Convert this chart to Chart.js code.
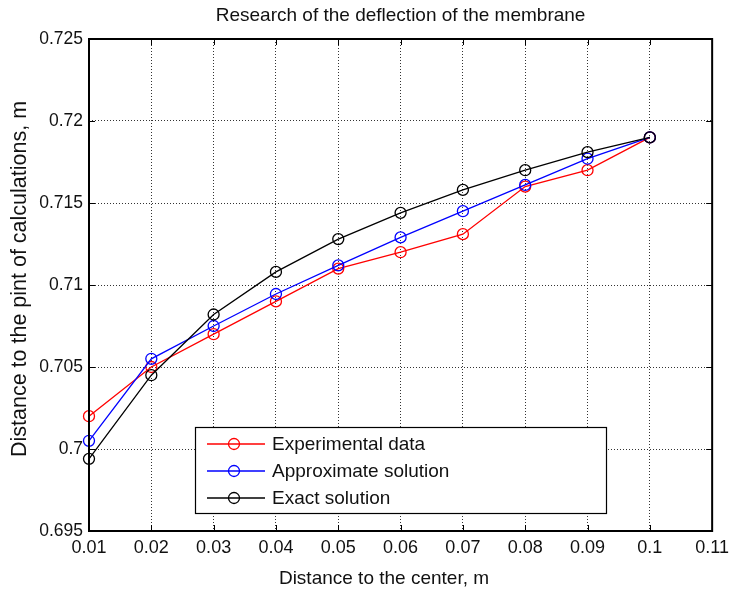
<!DOCTYPE html>
<html>
<head>
<meta charset="utf-8">
<script src="https://cdn.jsdelivr.net/npm/chart.js@4"></script>
<style>
  html, body { margin: 0; padding: 0; background: #ffffff; }
  #c { display: block; }
</style>
</head>
<body>
<canvas id="c" width="735" height="594"></canvas>
<script>
// ---- data ----
const distances = [0.01, 0.02, 0.03, 0.04, 0.05, 0.06, 0.07, 0.08, 0.09, 0.10];
const experimental = [0.7020, 0.7050, 0.7070, 0.7090, 0.7110, 0.7120, 0.7131, 0.7160, 0.7170, 0.7190];
const approximate  = [0.7005, 0.7055, 0.7075, 0.70945, 0.7112, 0.7129, 0.7145, 0.7161, 0.7177, 0.7190];
const exact        = [0.6994, 0.7045, 0.7082, 0.7108, 0.7128, 0.7144, 0.7158, 0.7170, 0.7181, 0.7190];
const xTickValues = [0.01, 0.02, 0.03, 0.04, 0.05, 0.06, 0.07, 0.08, 0.09, 0.10, 0.11];
const yTickValues = [0.695, 0.700, 0.705, 0.710, 0.715, 0.720, 0.725];
const seriesNames = ['Experimental data', 'Approximate solution', 'Exact solution'];
const seriesColors = ['#ff0000', '#0000ff', '#000000'];
const chartTitle = 'Research of the deflection of the membrane';
const xAxisTitle = 'Distance to the center, m';
const yAxisTitle = 'Distance to the pint of calculations, m';

const FONT = '"Liberation Sans", Arial, Helvetica, sans-serif';
const fmt = v => String(Number(v.toFixed(4)));
const pts = arr => distances.map((x, i) => ({ x: x, y: arr[i] }));

const seriesData = [experimental, approximate, exact];
const datasets = seriesData.map((arr, i) => ({
  label: seriesNames[i],
  data: pts(arr),
  borderColor: seriesColors[i],
  backgroundColor: seriesColors[i],
  borderWidth: 1.3,
  pointRadius: 5.5,
  pointHoverRadius: 5.5,
  pointBorderWidth: 1.3,
  pointBorderColor: seriesColors[i],
  pointBackgroundColor: 'rgba(0,0,0,0)',
  tension: 0,
  clip: false,
  order: seriesData.length - i
}));

// box + inward ticks (matlab style) + axis titles
const boxPlugin = {
  id: 'boxPlugin',
  afterDatasetsDraw(chart) {
    const { ctx, chartArea: a, scales } = chart;
    ctx.save();
    ctx.strokeStyle = '#000';
    ctx.lineWidth = 1;
    const L = 6;
    ctx.beginPath();
    scales.x.ticks.forEach(t => {
      const px = Math.round(scales.x.getPixelForValue(t.value)) + 0.5;
      ctx.moveTo(px, a.bottom); ctx.lineTo(px, a.bottom - L);
      ctx.moveTo(px, a.top); ctx.lineTo(px, a.top + L);
    });
    scales.y.ticks.forEach(t => {
      const py = Math.round(scales.y.getPixelForValue(t.value)) + 0.5;
      ctx.moveTo(a.left, py); ctx.lineTo(a.left + L, py);
      ctx.moveTo(a.right, py); ctx.lineTo(a.right - L, py);
    });
    ctx.stroke();
    ctx.lineWidth = 2;
    ctx.strokeRect(a.left, a.top, a.right - a.left, a.bottom - a.top);

    // axis titles
    ctx.fillStyle = '#111';
    ctx.textAlign = 'center';
    ctx.textBaseline = 'middle';
    ctx.font = '19px ' + FONT;
    ctx.fillText(xAxisTitle, 384, 579);
    ctx.save();
    ctx.translate(20, 279);
    ctx.rotate(-Math.PI / 2);
    ctx.font = '21.5px ' + FONT;
    ctx.fillText(yAxisTitle, 0, 0);
    ctx.restore();
    ctx.restore();
  }
};

// legend inside the plot
const legendPlugin = {
  id: 'boxLegend',
  afterDatasetsDraw(chart) {
    const { ctx } = chart;
    const x0 = 195.5, y0 = 427.5, w = 411, h = 86;
    ctx.save();
    ctx.fillStyle = '#ffffff';
    ctx.fillRect(x0, y0, w, h);
    ctx.strokeStyle = '#000';
    ctx.lineWidth = 1.2;
    ctx.strokeRect(x0, y0, w, h);
    ctx.font = '19px ' + FONT;
    ctx.textBaseline = 'middle';
    ctx.textAlign = 'left';
    chart.data.datasets.forEach((ds, i) => {
      const y = 444 + i * 27;
      ctx.strokeStyle = ds.borderColor;
      ctx.lineWidth = 1.3;
      ctx.beginPath();
      ctx.moveTo(207, y); ctx.lineTo(265, y);
      ctx.stroke();
      ctx.beginPath();
      ctx.arc(234, y, 5.5, 0, Math.PI * 2);
      ctx.stroke();
      ctx.fillStyle = '#111';
      ctx.fillText(ds.label, 272, y + 1);
    });
    ctx.restore();
  }
};

new Chart(document.getElementById('c'), {
  type: 'line',
  data: { datasets },
  options: {
    responsive: false,
    animation: false,
    devicePixelRatio: 1,
    layout: { padding: { left: 0, right: 20, top: 0, bottom: 0 } },
    plugins: {
      legend: { display: false },
      tooltip: { enabled: false },
      title: {
        display: true,
        text: chartTitle,
        fullSize: false,
        color: '#111',
        font: { family: FONT, size: 19, weight: 'normal' },
        padding: { top: 4, bottom: 12.2 }
      }
    },
    scales: {
      x: {
        type: 'linear',
        min: 0.01,
        max: 0.11,
        afterBuildTicks: s => { s.ticks = xTickValues.map(v => ({ value: v })); },
        afterFit: s => { s.height = 63; },
        ticks: {
          color: '#111',
          padding: 6,
          maxRotation: 0,
          autoSkip: false,
          font: { family: FONT, size: 18 },
          callback: v => fmt(v)
        },
        grid: { color: '#333', lineWidth: 1, drawTicks: false },
        border: { display: false, dash: [1, 2] },
        title: { display: false, text: xAxisTitle }
      },
      y: {
        type: 'linear',
        min: 0.695,
        max: 0.725,
        afterBuildTicks: s => { s.ticks = yTickValues.map(v => ({ value: v })); },
        afterFit: s => { s.width = 89; },
        ticks: {
          color: '#111',
          padding: 6,
          autoSkip: false,
          font: { family: FONT, size: 17.5 },
          callback: v => fmt(v)
        },
        grid: { color: '#333', lineWidth: 1, drawTicks: false },
        border: { display: false, dash: [1, 2] },
        title: { display: false, text: yAxisTitle }
      }
    }
  },
  plugins: [boxPlugin, legendPlugin]
});
</script>
</body>
</html>
